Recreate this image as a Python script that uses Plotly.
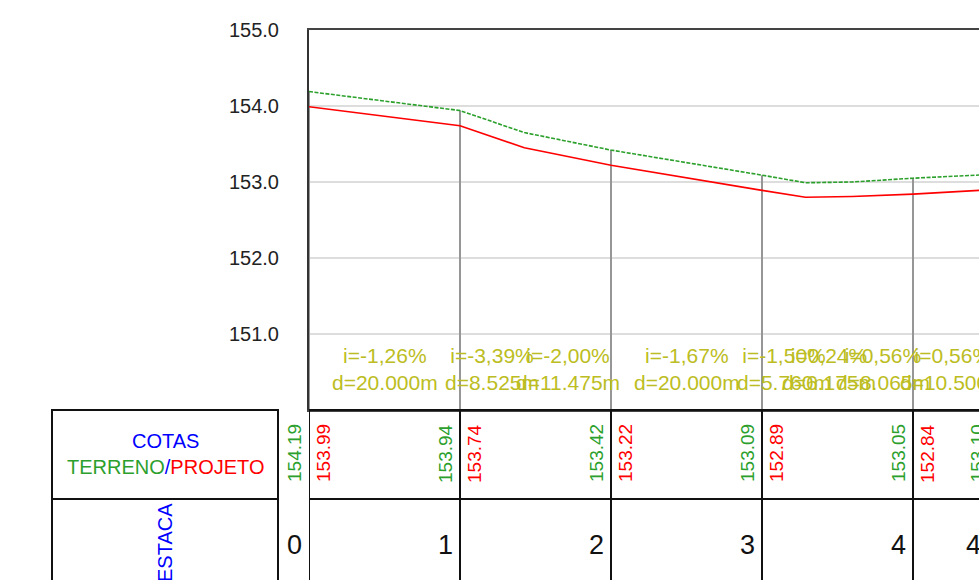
import plotly.graph_objects as go

# ---------------- data ----------------
BREAK_X = [0, 20, 28.525, 40, 60, 65.76, 71.935, 80, 90.5]
TERRAIN = [154.19, 153.94, 153.65, 153.42, 153.09, 152.99, 153.00, 153.05, 153.10]
PROJECT = [153.99, 153.74, 153.45, 153.22, 152.89, 152.80, 152.81, 152.84, 152.90]
SLOPE_I = ["-1,26%", "-3,39%", "-2,00%", "-1,67%", "-1,50%", "0,24%", "0,56%", "0,56%"]
SLOPE_D = ["20.000", "8.525", "11.475", "20.000", "5.760", "6.175", "8.065", "10.500"]
STATION_X = [0, 20, 40, 60, 80, 90.5]
STATION_LABELS = ["0", "1", "2", "3", "4", "4+10.50"]
STATION_TERRAIN = [154.19, 153.94, 153.42, 153.09, 153.05, 153.10]
STATION_PROJECT = [153.99, 153.74, 153.22, 152.89, 152.84, 152.90]
Y_TICKS = [151, 152, 153, 154, 155]

# ---------------- layout constants ----------------
W, H = 979, 580
ML, MT = 309, 30
PH = 380
MB = H - MT - PH
PW = W - ML
Y_MIN, Y_MAX = 150, 155
X_MAX = PW / 7.55
FONT = "Liberation Sans, Arial, sans-serif"
GREEN = "#2ca02c"
RED = "#ff0000"
OLIVE = "#bcbd22"
BLUE = "#0000ff"


def py(pix):
    """page pixel row -> paper y"""
    return (H - MB - pix) / PH


def px(pix):
    """page pixel column -> paper x"""
    return (pix - ML) / PW


def xpos(xm):
    if xm <= X_MAX:
        return dict(xref="x", x=xm)
    return dict(xref="paper", x=xm / X_MAX)


fig = go.Figure()

# station verticals (terrain -> bottom)
vx, vy = [], []
for s in STATION_X:
    t = TERRAIN[BREAK_X.index(s)]
    vx += [s, s, None]
    vy += [t, Y_MIN, None]
fig.add_trace(go.Scatter(x=vx, y=vy, mode="lines",
                         line=dict(color="#969696", width=2), hoverinfo="skip"))

fig.add_trace(go.Scatter(x=BREAK_X, y=PROJECT, mode="lines",
                         line=dict(color=RED, width=1.6), name="Projeto"))
fig.add_trace(go.Scatter(x=BREAK_X, y=TERRAIN, mode="lines",
                         line=dict(color=GREEN, width=1.6, dash="4px,1.5px"), name="Terreno"))

annotations = []
# slope labels
for k in range(len(SLOPE_I)):
    xm = (BREAK_X[k] + BREAK_X[k + 1]) / 2
    a = dict(y=py(369), yref="paper", showarrow=False,
             text=f"i={SLOPE_I[k]}<br>d={SLOPE_D[k]}m",
             font=dict(family=FONT, size=21, color=OLIVE),
             xanchor="center", yanchor="middle")
    a.update(xpos(xm))
    annotations.append(a)

# table values
for s, lab, te, pr in zip(STATION_X, STATION_LABELS, STATION_TERRAIN, STATION_PROJECT):
    a = dict(y=py(453.5), yref="paper", showarrow=False, text=f"{te:.2f}",
             textangle=-90, font=dict(family=FONT, size=19, color=GREEN),
             xanchor="center", yanchor="middle", xshift=-14.5)
    a.update(xpos(s))
    annotations.append(a)
    a = dict(y=py(453.5), yref="paper", showarrow=False, text=f"{pr:.2f}",
             textangle=-90, font=dict(family=FONT, size=19, color=RED),
             xanchor="center", yanchor="middle", xshift=14.5)
    a.update(xpos(s))
    annotations.append(a)
    last = s == STATION_X[-1]
    a = dict(y=py(545), yref="paper", showarrow=False, text=lab,
             font=dict(family=FONT, size=27, color="#111"),
             xanchor="left" if last else "right", yanchor="middle",
             xshift=-28 if last else -5)
    a.update(xpos(s))
    annotations.append(a)

annotations.append(dict(
    x=px(165), y=py(454), xref="paper", yref="paper", showarrow=False,
    text=(f"<span style='color:{BLUE}'>COTAS</span><br>"
          f"<span style='color:{GREEN}'>TERRENO</span><span style='color:{BLUE}'>/</span>"
          f"<span style='color:{RED}'>PROJETO</span>"),
    font=dict(family=FONT, size=20, color=BLUE), xanchor="center", yanchor="middle"))
annotations.append(dict(
    x=px(165), y=py(543), xref="paper", yref="paper", showarrow=False,
    text="ESTACA", textangle=-90,
    font=dict(family=FONT, size=20, color=BLUE), xanchor="center", yanchor="middle"))

shapes = []
LINE = dict(color="#111", width=2)
# label box
shapes.append(dict(type="rect", xref="paper", yref="paper", x0=px(52), x1=px(278),
                   y0=py(600), y1=py(410), line=LINE))
shapes.append(dict(type="line", xref="paper", yref="paper", x0=px(52), x1=px(278),
                   y0=py(499), y1=py(499), line=LINE))
# data table horizontals
for r in (410, 499):
    shapes.append(dict(type="line", xref="paper", yref="paper", x0=0, x1=1,
                       y0=py(r), y1=py(r), line=LINE))
# data table verticals
for s in STATION_X:
    if s <= X_MAX:
        shapes.append(dict(type="line", xref="x", yref="paper", x0=s, x1=s,
                           y0=py(600), y1=0, line=LINE))

fig.update_layout(
    width=W, height=H,
    margin=dict(l=ML, r=0, t=MT, b=MB, pad=0),
    plot_bgcolor="white", paper_bgcolor="white",
    showlegend=False,
    annotations=annotations, shapes=shapes,
    xaxis=dict(range=[0, X_MAX], showgrid=False, zeroline=False, showticklabels=False,
               showline=True, mirror=True, linecolor="#444", linewidth=1.5, ticks=""),
    yaxis=dict(range=[Y_MIN, Y_MAX], tickvals=Y_TICKS, tickformat=".1f",
               showgrid=True, gridcolor="#dddddd", gridwidth=1.5, zeroline=False,
               showline=True, linecolor="#333", linewidth=2, ticks="",
               ticklabelstandoff=24,
               tickfont=dict(family=FONT, size=20, color="#222")),
)

fig.write_html(
    "out.html",
    config={"displayModeBar": False},
    post_script="document.body.style.margin='0px';document.body.style.overflow='hidden';",
)
